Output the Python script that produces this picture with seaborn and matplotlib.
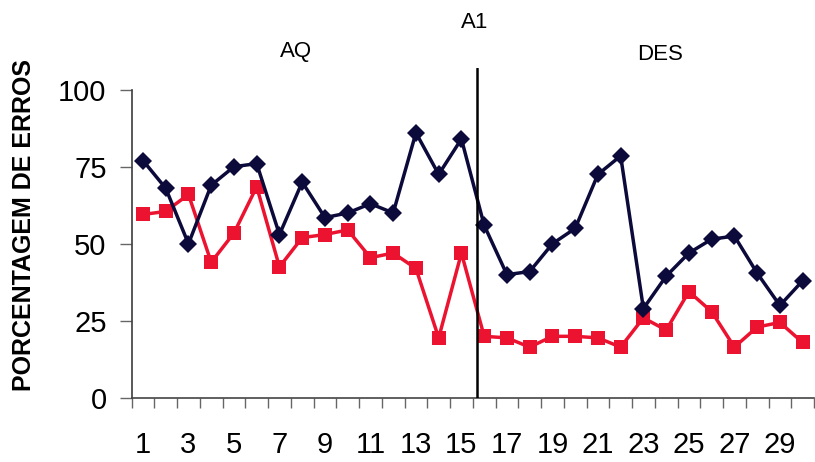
import numpy as np
import pandas as pd
import matplotlib
matplotlib.use("Agg")
import matplotlib.pyplot as plt
import seaborn as sns

sessions = list(range(1, 31))
serie_preta = [77, 68, 50, 69, 75, 76, 53, 70, 58.5, 60, 63, 60, 86, 72.5, 84,
               56, 40, 41, 50, 55, 72.5, 78.5, 29, 39.5, 47, 51.5, 52.5, 40.5, 30, 38]
serie_vermelha = [59.5, 60.5, 66, 44, 53.5, 68.5, 42.5, 52, 53, 54.5, 45.5, 47, 42, 19.5, 47,
                  20, 19.5, 16.5, 20, 20, 19.5, 16.5, 26, 22, 34.5, 28, 16.5, 23, 24.5, 18]
y_ticks = [0, 25, 50, 75, 100]
x_labels = list(range(1, 30, 2))
phase_line = 15.7

sns.set_theme(style="white")
plt.rcParams['font.family'] = ['Liberation Sans', 'DejaVu Sans']
plt.rcParams['text.color'] = 'black'

df = pd.DataFrame({"sessao": sessions, "preta": serie_preta, "vermelha": serie_vermelha})

fig = plt.figure(figsize=(8.15, 4.62), dpi=100)
ax = fig.add_axes([131.6 / 815, 64 / 462, (814 - 131.6) / 815, 330 / 462])

sns.lineplot(data=df, x="sessao", y="vermelha", ax=ax, color="#ec1330", lw=2.5,
             marker="s", markersize=10, markeredgewidth=0, zorder=3)
sns.lineplot(data=df, x="sessao", y="preta", ax=ax, color="#0c0a3a", lw=2.5,
             marker="D", markersize=9, markeredgewidth=0, zorder=4)

ax.axvline(phase_line, color="black", lw=1.8, zorder=5)

ax.set_xlim(0.5, 30.5)
ax.set_ylim(0, 107)
ax.set_yticks(y_ticks)
ax.set_xticks(x_labels)
ax.set_xticks(np.arange(0.5, 31, 1), minor=True)
ax.tick_params(axis="x", which="major", length=0, labelsize=21, pad=24, colors="black")
ax.tick_params(axis="x", which="minor", length=7, width=1, color="#666666", bottom=True)
ax.tick_params(axis="y", length=9, width=1, color="#666666", labelsize=21, left=True,
               pad=9, labelcolor="black")

for s in ["top", "right"]:
    ax.spines[s].set_visible(False)
ax.spines["left"].set_bounds(0, 100)
ax.spines["left"].set_color("#444444")
ax.spines["bottom"].set_color("#444444")
ax.spines["bottom"].set_linewidth(1.2)

ax.set_xlabel("")
ax.set_ylabel("")
fig.text(24 / 815, 1 - 225 / 462, "PORCENTAGEM DE ERROS", fontsize=18, fontweight="bold",
         rotation=90, ha="center", va="center", color="black")

fig.text(475 / 815, 1 - 23 / 462, "A1", fontsize=16, ha="center", va="center", color="black")
fig.text(296 / 815, 1 - 51 / 462, "AQ", fontsize=16, ha="center", va="center", color="black")
fig.text(660 / 815, 1 - 54 / 462, "DES", fontsize=16, ha="center", va="center", color="black")

fig.savefig("out.png", dpi=100)
